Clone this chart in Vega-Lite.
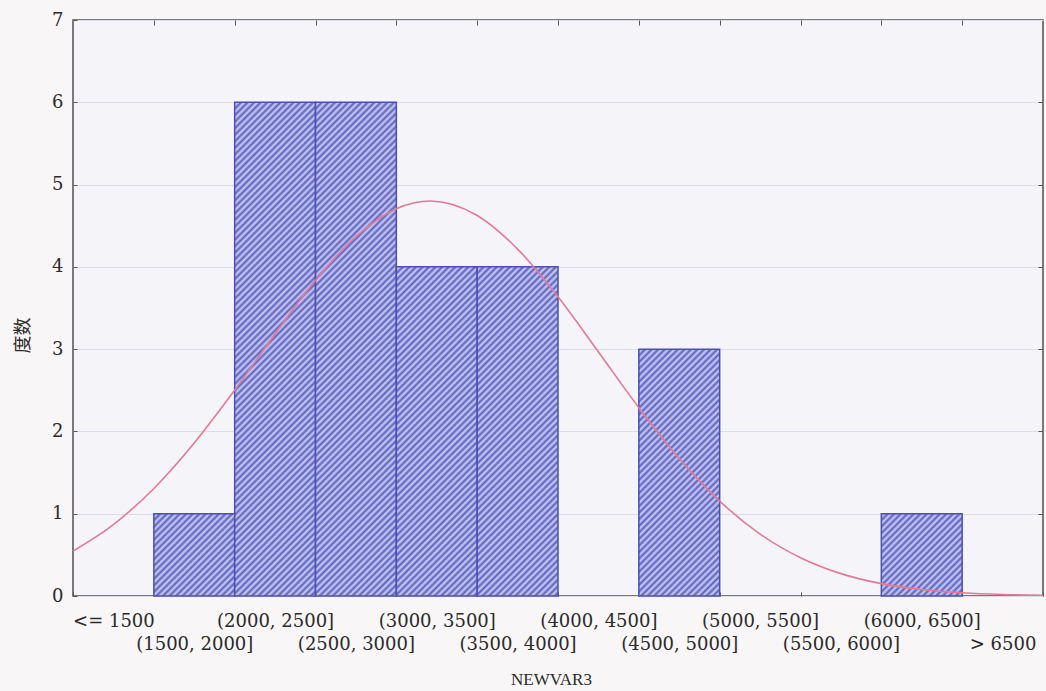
{
  "$schema": "https://vega.github.io/schema/vega-lite/v6.json",
  "width": 970,
  "height": 576,
  "autosize": {"type": "none"},
  "padding": {"left": 73, "top": 20, "right": 3, "bottom": 95},
  "background": "#f8f6f7",
  "config": {"view": {"stroke": "#505050", "strokeWidth": 1.5, "fill": "#f4f4f9"}},
  "datasets": {
    "bins": [
      {"bin": "<= 1500", "count": 0},
      {"bin": "(1500, 2000]", "count": 1},
      {"bin": "(2000, 2500]", "count": 6},
      {"bin": "(2500, 3000]", "count": 6},
      {"bin": "(3000, 3500]", "count": 4},
      {"bin": "(3500, 4000]", "count": 4},
      {"bin": "(4000, 4500]", "count": 0},
      {"bin": "(4500, 5000]", "count": 3},
      {"bin": "(5000, 5500]", "count": 0},
      {"bin": "(5500, 6000]", "count": 0},
      {"bin": "(6000, 6500]", "count": 1},
      {"bin": "> 6500", "count": 0}
    ],
    "curve": [
      {"value": 1000, "density": 0.546},
      {"value": 1250, "density": 0.868},
      {"value": 1500, "density": 1.307},
      {"value": 1750, "density": 1.86},
      {"value": 2000, "density": 2.502},
      {"value": 2250, "density": 3.185},
      {"value": 2500, "density": 3.836},
      {"value": 2750, "density": 4.368},
      {"value": 3000, "density": 4.707},
      {"value": 3210, "density": 4.8},
      {"value": 3500, "density": 4.624},
      {"value": 3750, "density": 4.216},
      {"value": 4000, "density": 3.636},
      {"value": 4250, "density": 2.966},
      {"value": 4500, "density": 2.289},
      {"value": 4750, "density": 1.671},
      {"value": 5000, "density": 1.153},
      {"value": 5250, "density": 0.753},
      {"value": 5500, "density": 0.465},
      {"value": 5750, "density": 0.272},
      {"value": 6000, "density": 0.15},
      {"value": 6250, "density": 0.079},
      {"value": 6500, "density": 0.039},
      {"value": 6750, "density": 0.018},
      {"value": 7000, "density": 0.008}
    ]
  },
  "layer": [
    {
      "data": {"name": "bins"},
      "mark": {"type": "bar", "stroke": "#4b4fb4", "strokeWidth": 1.5, "width": {"band": 1}},
      "encoding": {
        "x": {
          "field": "bin", "type": "nominal", "sort": null,
          "scale": {"paddingInner": 0, "paddingOuter": 0},
          "axis": {
            "orient": "bottom", "title": "NEWVAR3", "labelAngle": 0,
            "labelFont": "DejaVu Serif", "labelFontSize": 18, "labelColor": "#2a2a2a",
            "labelBaseline": "top", "labelLineHeight": 23, "labelPadding": 20,
            "labelExpr": "indexof(['(1500, 2000]','(2500, 3000]','(3500, 4000]','(4500, 5000]','(5500, 6000]','> 6500'], datum.value) >= 0 ? ['', datum.label] : datum.label",
            "labelOverlap": false, "labelBound": false, "labelFlush": false, "labelLimit": 0,
            "domain": false, "ticks": true, "tickBand": "extent", "tickSize": -4, "tickColor": "#555555",
            "grid": false,
            "titleFont": "Liberation Serif", "titleFontSize": 17, "titleFontWeight": "normal", "titleColor": "#2a2a2a",
            "titleX": 478, "titleY": 88, "titleBaseline": "alphabetic", "titleAlign": "center"
          }
        },
        "y": {
          "field": "count", "type": "quantitative", "scale": {"domain": [0, 7], "nice": false},
          "axis": {
            "title": "度数", "values": [0, 1, 2, 3, 4, 5, 6, 7],
            "labelFont": "DejaVu Serif", "labelFontSize": 18, "labelColor": "#2a2a2a", "labelPadding": 14,
            "grid": true, "gridColor": "#dcdce6", "gridWidth": 1,
            "domain": false, "ticks": true, "tickSize": -4, "tickColor": "#555555",
            "titleFont": "Noto Sans CJK SC", "titleFontSize": 18, "titleFontWeight": "normal", "titleColor": "#2a2a2a",
            "titleAngle": 270, "titleX": -50, "titleY": 315, "titleAlign": "center", "titleBaseline": "middle"
          }
        },
        "strokeOpacity": {"condition": {"test": "datum.count == 0", "value": 0}, "value": 1},
        "fill": {
          "condition": [
            {"test": "datum.count == 1", "value": {"gradient": "linear", "x1": 0, "y1": 0, "x2": 0.991, "y2": 1.0088, "stops": [
              {"offset": 0, "color": "#5a5ec2"}, {"offset": 0.02, "color": "#cdd0f2"}, {"offset": 0.04, "color": "#5a5ec2"}, {"offset": 0.06, "color": "#cdd0f2"},
              {"offset": 0.08, "color": "#5a5ec2"}, {"offset": 0.1, "color": "#cdd0f2"}, {"offset": 0.12, "color": "#5a5ec2"}, {"offset": 0.14, "color": "#cdd0f2"},
              {"offset": 0.16, "color": "#5a5ec2"}, {"offset": 0.18, "color": "#cdd0f2"}, {"offset": 0.2, "color": "#5a5ec2"}, {"offset": 0.22, "color": "#cdd0f2"},
              {"offset": 0.24, "color": "#5a5ec2"}, {"offset": 0.26, "color": "#cdd0f2"}, {"offset": 0.28, "color": "#5a5ec2"}, {"offset": 0.3, "color": "#cdd0f2"},
              {"offset": 0.32, "color": "#5a5ec2"}, {"offset": 0.34, "color": "#cdd0f2"}, {"offset": 0.36, "color": "#5a5ec2"}, {"offset": 0.38, "color": "#cdd0f2"},
              {"offset": 0.4, "color": "#5a5ec2"}, {"offset": 0.42, "color": "#cdd0f2"}, {"offset": 0.44, "color": "#5a5ec2"}, {"offset": 0.46, "color": "#cdd0f2"},
              {"offset": 0.48, "color": "#5a5ec2"}, {"offset": 0.5, "color": "#cdd0f2"}, {"offset": 0.52, "color": "#5a5ec2"}, {"offset": 0.54, "color": "#cdd0f2"},
              {"offset": 0.56, "color": "#5a5ec2"}, {"offset": 0.58, "color": "#cdd0f2"}, {"offset": 0.6, "color": "#5a5ec2"}, {"offset": 0.62, "color": "#cdd0f2"},
              {"offset": 0.64, "color": "#5a5ec2"}, {"offset": 0.66, "color": "#cdd0f2"}, {"offset": 0.68, "color": "#5a5ec2"}, {"offset": 0.7, "color": "#cdd0f2"},
              {"offset": 0.72, "color": "#5a5ec2"}, {"offset": 0.74, "color": "#cdd0f2"}, {"offset": 0.76, "color": "#5a5ec2"}, {"offset": 0.78, "color": "#cdd0f2"},
              {"offset": 0.8, "color": "#5a5ec2"}, {"offset": 0.82, "color": "#cdd0f2"}, {"offset": 0.84, "color": "#5a5ec2"}, {"offset": 0.86, "color": "#cdd0f2"},
              {"offset": 0.88, "color": "#5a5ec2"}, {"offset": 0.9, "color": "#cdd0f2"}, {"offset": 0.92, "color": "#5a5ec2"}, {"offset": 0.94, "color": "#cdd0f2"},
              {"offset": 0.96, "color": "#5a5ec2"}, {"offset": 0.98, "color": "#cdd0f2"}, {"offset": 1, "color": "#5a5ec2"}
            ]}},
            {"test": "datum.count == 3", "value": {"gradient": "linear", "x1": 0, "y1": 0, "x2": 0.39258, "y2": 1.1989, "stops": [
              {"offset": 0, "color": "#5a5ec2"}, {"offset": 0.01, "color": "#cdd0f2"}, {"offset": 0.02, "color": "#5a5ec2"}, {"offset": 0.03, "color": "#cdd0f2"},
              {"offset": 0.04, "color": "#5a5ec2"}, {"offset": 0.05, "color": "#cdd0f2"}, {"offset": 0.06, "color": "#5a5ec2"}, {"offset": 0.07, "color": "#cdd0f2"},
              {"offset": 0.08, "color": "#5a5ec2"}, {"offset": 0.09, "color": "#cdd0f2"}, {"offset": 0.1, "color": "#5a5ec2"}, {"offset": 0.11, "color": "#cdd0f2"},
              {"offset": 0.12, "color": "#5a5ec2"}, {"offset": 0.13, "color": "#cdd0f2"}, {"offset": 0.14, "color": "#5a5ec2"}, {"offset": 0.15, "color": "#cdd0f2"},
              {"offset": 0.16, "color": "#5a5ec2"}, {"offset": 0.17, "color": "#cdd0f2"}, {"offset": 0.18, "color": "#5a5ec2"}, {"offset": 0.19, "color": "#cdd0f2"},
              {"offset": 0.2, "color": "#5a5ec2"}, {"offset": 0.21, "color": "#cdd0f2"}, {"offset": 0.22, "color": "#5a5ec2"}, {"offset": 0.23, "color": "#cdd0f2"},
              {"offset": 0.24, "color": "#5a5ec2"}, {"offset": 0.25, "color": "#cdd0f2"}, {"offset": 0.26, "color": "#5a5ec2"}, {"offset": 0.27, "color": "#cdd0f2"},
              {"offset": 0.28, "color": "#5a5ec2"}, {"offset": 0.29, "color": "#cdd0f2"}, {"offset": 0.3, "color": "#5a5ec2"}, {"offset": 0.31, "color": "#cdd0f2"},
              {"offset": 0.32, "color": "#5a5ec2"}, {"offset": 0.33, "color": "#cdd0f2"}, {"offset": 0.34, "color": "#5a5ec2"}, {"offset": 0.35, "color": "#cdd0f2"},
              {"offset": 0.36, "color": "#5a5ec2"}, {"offset": 0.37, "color": "#cdd0f2"}, {"offset": 0.38, "color": "#5a5ec2"}, {"offset": 0.39, "color": "#cdd0f2"},
              {"offset": 0.4, "color": "#5a5ec2"}, {"offset": 0.41, "color": "#cdd0f2"}, {"offset": 0.42, "color": "#5a5ec2"}, {"offset": 0.43, "color": "#cdd0f2"},
              {"offset": 0.44, "color": "#5a5ec2"}, {"offset": 0.45, "color": "#cdd0f2"}, {"offset": 0.46, "color": "#5a5ec2"}, {"offset": 0.47, "color": "#cdd0f2"},
              {"offset": 0.48, "color": "#5a5ec2"}, {"offset": 0.49, "color": "#cdd0f2"}, {"offset": 0.5, "color": "#5a5ec2"}, {"offset": 0.51, "color": "#cdd0f2"},
              {"offset": 0.52, "color": "#5a5ec2"}, {"offset": 0.53, "color": "#cdd0f2"}, {"offset": 0.54, "color": "#5a5ec2"}, {"offset": 0.55, "color": "#cdd0f2"},
              {"offset": 0.56, "color": "#5a5ec2"}, {"offset": 0.57, "color": "#cdd0f2"}, {"offset": 0.58, "color": "#5a5ec2"}, {"offset": 0.59, "color": "#cdd0f2"},
              {"offset": 0.6, "color": "#5a5ec2"}, {"offset": 0.61, "color": "#cdd0f2"}, {"offset": 0.62, "color": "#5a5ec2"}, {"offset": 0.63, "color": "#cdd0f2"},
              {"offset": 0.64, "color": "#5a5ec2"}, {"offset": 0.65, "color": "#cdd0f2"}, {"offset": 0.66, "color": "#5a5ec2"}, {"offset": 0.67, "color": "#cdd0f2"},
              {"offset": 0.68, "color": "#5a5ec2"}, {"offset": 0.69, "color": "#cdd0f2"}, {"offset": 0.7, "color": "#5a5ec2"}, {"offset": 0.71, "color": "#cdd0f2"},
              {"offset": 0.72, "color": "#5a5ec2"}, {"offset": 0.73, "color": "#cdd0f2"}, {"offset": 0.74, "color": "#5a5ec2"}, {"offset": 0.75, "color": "#cdd0f2"},
              {"offset": 0.76, "color": "#5a5ec2"}, {"offset": 0.77, "color": "#cdd0f2"}, {"offset": 0.78, "color": "#5a5ec2"}, {"offset": 0.79, "color": "#cdd0f2"},
              {"offset": 0.8, "color": "#5a5ec2"}, {"offset": 0.81, "color": "#cdd0f2"}, {"offset": 0.82, "color": "#5a5ec2"}, {"offset": 0.83, "color": "#cdd0f2"},
              {"offset": 0.84, "color": "#5a5ec2"}, {"offset": 0.85, "color": "#cdd0f2"}, {"offset": 0.86, "color": "#5a5ec2"}, {"offset": 0.87, "color": "#cdd0f2"},
              {"offset": 0.88, "color": "#5a5ec2"}, {"offset": 0.89, "color": "#cdd0f2"}, {"offset": 0.9, "color": "#5a5ec2"}, {"offset": 0.91, "color": "#cdd0f2"},
              {"offset": 0.92, "color": "#5a5ec2"}, {"offset": 0.93, "color": "#cdd0f2"}, {"offset": 0.94, "color": "#5a5ec2"}, {"offset": 0.95, "color": "#cdd0f2"},
              {"offset": 0.96, "color": "#5a5ec2"}, {"offset": 0.97, "color": "#cdd0f2"}, {"offset": 0.98, "color": "#5a5ec2"}, {"offset": 0.99, "color": "#cdd0f2"},
              {"offset": 1, "color": "#5a5ec2"}
            ]}},
            {"test": "datum.count == 4", "value": {"gradient": "linear", "x1": 0, "y1": 0, "x2": 0.2885, "y2": 1.17473, "stops": [
              {"offset": 0, "color": "#5a5ec2"}, {"offset": 0.008, "color": "#cdd0f2"}, {"offset": 0.016, "color": "#5a5ec2"}, {"offset": 0.024, "color": "#cdd0f2"},
              {"offset": 0.032, "color": "#5a5ec2"}, {"offset": 0.04, "color": "#cdd0f2"}, {"offset": 0.048, "color": "#5a5ec2"}, {"offset": 0.056, "color": "#cdd0f2"},
              {"offset": 0.064, "color": "#5a5ec2"}, {"offset": 0.072, "color": "#cdd0f2"}, {"offset": 0.08, "color": "#5a5ec2"}, {"offset": 0.088, "color": "#cdd0f2"},
              {"offset": 0.096, "color": "#5a5ec2"}, {"offset": 0.104, "color": "#cdd0f2"}, {"offset": 0.112, "color": "#5a5ec2"}, {"offset": 0.12, "color": "#cdd0f2"},
              {"offset": 0.128, "color": "#5a5ec2"}, {"offset": 0.136, "color": "#cdd0f2"}, {"offset": 0.144, "color": "#5a5ec2"}, {"offset": 0.152, "color": "#cdd0f2"},
              {"offset": 0.16, "color": "#5a5ec2"}, {"offset": 0.168, "color": "#cdd0f2"}, {"offset": 0.176, "color": "#5a5ec2"}, {"offset": 0.184, "color": "#cdd0f2"},
              {"offset": 0.192, "color": "#5a5ec2"}, {"offset": 0.2, "color": "#cdd0f2"}, {"offset": 0.208, "color": "#5a5ec2"}, {"offset": 0.216, "color": "#cdd0f2"},
              {"offset": 0.224, "color": "#5a5ec2"}, {"offset": 0.232, "color": "#cdd0f2"}, {"offset": 0.24, "color": "#5a5ec2"}, {"offset": 0.248, "color": "#cdd0f2"},
              {"offset": 0.256, "color": "#5a5ec2"}, {"offset": 0.264, "color": "#cdd0f2"}, {"offset": 0.272, "color": "#5a5ec2"}, {"offset": 0.28, "color": "#cdd0f2"},
              {"offset": 0.288, "color": "#5a5ec2"}, {"offset": 0.296, "color": "#cdd0f2"}, {"offset": 0.304, "color": "#5a5ec2"}, {"offset": 0.312, "color": "#cdd0f2"},
              {"offset": 0.32, "color": "#5a5ec2"}, {"offset": 0.328, "color": "#cdd0f2"}, {"offset": 0.336, "color": "#5a5ec2"}, {"offset": 0.344, "color": "#cdd0f2"},
              {"offset": 0.352, "color": "#5a5ec2"}, {"offset": 0.36, "color": "#cdd0f2"}, {"offset": 0.368, "color": "#5a5ec2"}, {"offset": 0.376, "color": "#cdd0f2"},
              {"offset": 0.384, "color": "#5a5ec2"}, {"offset": 0.392, "color": "#cdd0f2"}, {"offset": 0.4, "color": "#5a5ec2"}, {"offset": 0.408, "color": "#cdd0f2"},
              {"offset": 0.416, "color": "#5a5ec2"}, {"offset": 0.424, "color": "#cdd0f2"}, {"offset": 0.432, "color": "#5a5ec2"}, {"offset": 0.44, "color": "#cdd0f2"},
              {"offset": 0.448, "color": "#5a5ec2"}, {"offset": 0.456, "color": "#cdd0f2"}, {"offset": 0.464, "color": "#5a5ec2"}, {"offset": 0.472, "color": "#cdd0f2"},
              {"offset": 0.48, "color": "#5a5ec2"}, {"offset": 0.488, "color": "#cdd0f2"}, {"offset": 0.496, "color": "#5a5ec2"}, {"offset": 0.504, "color": "#cdd0f2"},
              {"offset": 0.512, "color": "#5a5ec2"}, {"offset": 0.52, "color": "#cdd0f2"}, {"offset": 0.528, "color": "#5a5ec2"}, {"offset": 0.536, "color": "#cdd0f2"},
              {"offset": 0.544, "color": "#5a5ec2"}, {"offset": 0.552, "color": "#cdd0f2"}, {"offset": 0.56, "color": "#5a5ec2"}, {"offset": 0.568, "color": "#cdd0f2"},
              {"offset": 0.576, "color": "#5a5ec2"}, {"offset": 0.584, "color": "#cdd0f2"}, {"offset": 0.592, "color": "#5a5ec2"}, {"offset": 0.6, "color": "#cdd0f2"},
              {"offset": 0.608, "color": "#5a5ec2"}, {"offset": 0.616, "color": "#cdd0f2"}, {"offset": 0.624, "color": "#5a5ec2"}, {"offset": 0.632, "color": "#cdd0f2"},
              {"offset": 0.64, "color": "#5a5ec2"}, {"offset": 0.648, "color": "#cdd0f2"}, {"offset": 0.656, "color": "#5a5ec2"}, {"offset": 0.664, "color": "#cdd0f2"},
              {"offset": 0.672, "color": "#5a5ec2"}, {"offset": 0.68, "color": "#cdd0f2"}, {"offset": 0.688, "color": "#5a5ec2"}, {"offset": 0.696, "color": "#cdd0f2"},
              {"offset": 0.704, "color": "#5a5ec2"}, {"offset": 0.712, "color": "#cdd0f2"}, {"offset": 0.72, "color": "#5a5ec2"}, {"offset": 0.728, "color": "#cdd0f2"},
              {"offset": 0.736, "color": "#5a5ec2"}, {"offset": 0.744, "color": "#cdd0f2"}, {"offset": 0.752, "color": "#5a5ec2"}, {"offset": 0.76, "color": "#cdd0f2"},
              {"offset": 0.768, "color": "#5a5ec2"}, {"offset": 0.776, "color": "#cdd0f2"}, {"offset": 0.784, "color": "#5a5ec2"}, {"offset": 0.792, "color": "#cdd0f2"},
              {"offset": 0.8, "color": "#5a5ec2"}, {"offset": 0.808, "color": "#cdd0f2"}, {"offset": 0.816, "color": "#5a5ec2"}, {"offset": 0.824, "color": "#cdd0f2"},
              {"offset": 0.832, "color": "#5a5ec2"}, {"offset": 0.84, "color": "#cdd0f2"}, {"offset": 0.848, "color": "#5a5ec2"}, {"offset": 0.856, "color": "#cdd0f2"},
              {"offset": 0.864, "color": "#5a5ec2"}, {"offset": 0.872, "color": "#cdd0f2"}, {"offset": 0.88, "color": "#5a5ec2"}, {"offset": 0.888, "color": "#cdd0f2"},
              {"offset": 0.896, "color": "#5a5ec2"}, {"offset": 0.904, "color": "#cdd0f2"}, {"offset": 0.912, "color": "#5a5ec2"}, {"offset": 0.92, "color": "#cdd0f2"},
              {"offset": 0.928, "color": "#5a5ec2"}, {"offset": 0.936, "color": "#cdd0f2"}, {"offset": 0.944, "color": "#5a5ec2"}, {"offset": 0.952, "color": "#cdd0f2"},
              {"offset": 0.96, "color": "#5a5ec2"}, {"offset": 0.968, "color": "#cdd0f2"}, {"offset": 0.976, "color": "#5a5ec2"}, {"offset": 0.984, "color": "#cdd0f2"},
              {"offset": 0.992, "color": "#5a5ec2"}, {"offset": 1, "color": "#cdd0f2"}
            ]}},
            {"test": "datum.count == 6", "value": {"gradient": "linear", "x1": 0, "y1": 0, "x2": 0.18556, "y2": 1.13335, "stops": [
              {"offset": 0, "color": "#5a5ec2"}, {"offset": 0.0057, "color": "#cdd0f2"}, {"offset": 0.0114, "color": "#5a5ec2"}, {"offset": 0.0171, "color": "#cdd0f2"},
              {"offset": 0.0228, "color": "#5a5ec2"}, {"offset": 0.0285, "color": "#cdd0f2"}, {"offset": 0.0342, "color": "#5a5ec2"}, {"offset": 0.0399, "color": "#cdd0f2"},
              {"offset": 0.0456, "color": "#5a5ec2"}, {"offset": 0.0513, "color": "#cdd0f2"}, {"offset": 0.057, "color": "#5a5ec2"}, {"offset": 0.0627, "color": "#cdd0f2"},
              {"offset": 0.0684, "color": "#5a5ec2"}, {"offset": 0.0741, "color": "#cdd0f2"}, {"offset": 0.0798, "color": "#5a5ec2"}, {"offset": 0.0855, "color": "#cdd0f2"},
              {"offset": 0.0912, "color": "#5a5ec2"}, {"offset": 0.0969, "color": "#cdd0f2"}, {"offset": 0.1026, "color": "#5a5ec2"}, {"offset": 0.1083, "color": "#cdd0f2"},
              {"offset": 0.114, "color": "#5a5ec2"}, {"offset": 0.1197, "color": "#cdd0f2"}, {"offset": 0.1254, "color": "#5a5ec2"}, {"offset": 0.1311, "color": "#cdd0f2"},
              {"offset": 0.1368, "color": "#5a5ec2"}, {"offset": 0.1425, "color": "#cdd0f2"}, {"offset": 0.1482, "color": "#5a5ec2"}, {"offset": 0.1539, "color": "#cdd0f2"},
              {"offset": 0.1596, "color": "#5a5ec2"}, {"offset": 0.1653, "color": "#cdd0f2"}, {"offset": 0.171, "color": "#5a5ec2"}, {"offset": 0.1767, "color": "#cdd0f2"},
              {"offset": 0.1824, "color": "#5a5ec2"}, {"offset": 0.1881, "color": "#cdd0f2"}, {"offset": 0.1938, "color": "#5a5ec2"}, {"offset": 0.1995, "color": "#cdd0f2"},
              {"offset": 0.2052, "color": "#5a5ec2"}, {"offset": 0.2109, "color": "#cdd0f2"}, {"offset": 0.2166, "color": "#5a5ec2"}, {"offset": 0.2223, "color": "#cdd0f2"},
              {"offset": 0.228, "color": "#5a5ec2"}, {"offset": 0.2337, "color": "#cdd0f2"}, {"offset": 0.2394, "color": "#5a5ec2"}, {"offset": 0.2451, "color": "#cdd0f2"},
              {"offset": 0.2508, "color": "#5a5ec2"}, {"offset": 0.2565, "color": "#cdd0f2"}, {"offset": 0.2622, "color": "#5a5ec2"}, {"offset": 0.2679, "color": "#cdd0f2"},
              {"offset": 0.2736, "color": "#5a5ec2"}, {"offset": 0.2793, "color": "#cdd0f2"}, {"offset": 0.285, "color": "#5a5ec2"}, {"offset": 0.2907, "color": "#cdd0f2"},
              {"offset": 0.2964, "color": "#5a5ec2"}, {"offset": 0.3021, "color": "#cdd0f2"}, {"offset": 0.3078, "color": "#5a5ec2"}, {"offset": 0.3135, "color": "#cdd0f2"},
              {"offset": 0.3192, "color": "#5a5ec2"}, {"offset": 0.3249, "color": "#cdd0f2"}, {"offset": 0.3306, "color": "#5a5ec2"}, {"offset": 0.3363, "color": "#cdd0f2"},
              {"offset": 0.342, "color": "#5a5ec2"}, {"offset": 0.3477, "color": "#cdd0f2"}, {"offset": 0.3534, "color": "#5a5ec2"}, {"offset": 0.3591, "color": "#cdd0f2"},
              {"offset": 0.3648, "color": "#5a5ec2"}, {"offset": 0.3705, "color": "#cdd0f2"}, {"offset": 0.3762, "color": "#5a5ec2"}, {"offset": 0.3819, "color": "#cdd0f2"},
              {"offset": 0.3876, "color": "#5a5ec2"}, {"offset": 0.3933, "color": "#cdd0f2"}, {"offset": 0.399, "color": "#5a5ec2"}, {"offset": 0.4047, "color": "#cdd0f2"},
              {"offset": 0.4104, "color": "#5a5ec2"}, {"offset": 0.4161, "color": "#cdd0f2"}, {"offset": 0.4218, "color": "#5a5ec2"}, {"offset": 0.4275, "color": "#cdd0f2"},
              {"offset": 0.4332, "color": "#5a5ec2"}, {"offset": 0.4389, "color": "#cdd0f2"}, {"offset": 0.4446, "color": "#5a5ec2"}, {"offset": 0.4503, "color": "#cdd0f2"},
              {"offset": 0.456, "color": "#5a5ec2"}, {"offset": 0.4617, "color": "#cdd0f2"}, {"offset": 0.4674, "color": "#5a5ec2"}, {"offset": 0.4731, "color": "#cdd0f2"},
              {"offset": 0.4788, "color": "#5a5ec2"}, {"offset": 0.4845, "color": "#cdd0f2"}, {"offset": 0.4902, "color": "#5a5ec2"}, {"offset": 0.4959, "color": "#cdd0f2"},
              {"offset": 0.5016, "color": "#5a5ec2"}, {"offset": 0.5073, "color": "#cdd0f2"}, {"offset": 0.513, "color": "#5a5ec2"}, {"offset": 0.5187, "color": "#cdd0f2"},
              {"offset": 0.5244, "color": "#5a5ec2"}, {"offset": 0.5301, "color": "#cdd0f2"}, {"offset": 0.5358, "color": "#5a5ec2"}, {"offset": 0.5415, "color": "#cdd0f2"},
              {"offset": 0.5472, "color": "#5a5ec2"}, {"offset": 0.5529, "color": "#cdd0f2"}, {"offset": 0.5586, "color": "#5a5ec2"}, {"offset": 0.5643, "color": "#cdd0f2"},
              {"offset": 0.57, "color": "#5a5ec2"}, {"offset": 0.5757, "color": "#cdd0f2"}, {"offset": 0.5814, "color": "#5a5ec2"}, {"offset": 0.5871, "color": "#cdd0f2"},
              {"offset": 0.5928, "color": "#5a5ec2"}, {"offset": 0.5985, "color": "#cdd0f2"}, {"offset": 0.6042, "color": "#5a5ec2"}, {"offset": 0.6099, "color": "#cdd0f2"},
              {"offset": 0.6156, "color": "#5a5ec2"}, {"offset": 0.6213, "color": "#cdd0f2"}, {"offset": 0.627, "color": "#5a5ec2"}, {"offset": 0.6327, "color": "#cdd0f2"},
              {"offset": 0.6384, "color": "#5a5ec2"}, {"offset": 0.6441, "color": "#cdd0f2"}, {"offset": 0.6498, "color": "#5a5ec2"}, {"offset": 0.6555, "color": "#cdd0f2"},
              {"offset": 0.6612, "color": "#5a5ec2"}, {"offset": 0.6669, "color": "#cdd0f2"}, {"offset": 0.6726, "color": "#5a5ec2"}, {"offset": 0.6783, "color": "#cdd0f2"},
              {"offset": 0.684, "color": "#5a5ec2"}, {"offset": 0.6897, "color": "#cdd0f2"}, {"offset": 0.6954, "color": "#5a5ec2"}, {"offset": 0.7011, "color": "#cdd0f2"},
              {"offset": 0.7068, "color": "#5a5ec2"}, {"offset": 0.7125, "color": "#cdd0f2"}, {"offset": 0.7182, "color": "#5a5ec2"}, {"offset": 0.7239, "color": "#cdd0f2"},
              {"offset": 0.7296, "color": "#5a5ec2"}, {"offset": 0.7353, "color": "#cdd0f2"}, {"offset": 0.741, "color": "#5a5ec2"}, {"offset": 0.7467, "color": "#cdd0f2"},
              {"offset": 0.7524, "color": "#5a5ec2"}, {"offset": 0.7581, "color": "#cdd0f2"}, {"offset": 0.7638, "color": "#5a5ec2"}, {"offset": 0.7695, "color": "#cdd0f2"},
              {"offset": 0.7752, "color": "#5a5ec2"}, {"offset": 0.7809, "color": "#cdd0f2"}, {"offset": 0.7866, "color": "#5a5ec2"}, {"offset": 0.7923, "color": "#cdd0f2"},
              {"offset": 0.798, "color": "#5a5ec2"}, {"offset": 0.8037, "color": "#cdd0f2"}, {"offset": 0.8094, "color": "#5a5ec2"}, {"offset": 0.8151, "color": "#cdd0f2"},
              {"offset": 0.8208, "color": "#5a5ec2"}, {"offset": 0.8265, "color": "#cdd0f2"}, {"offset": 0.8322, "color": "#5a5ec2"}, {"offset": 0.8379, "color": "#cdd0f2"},
              {"offset": 0.8436, "color": "#5a5ec2"}, {"offset": 0.8493, "color": "#cdd0f2"}, {"offset": 0.855, "color": "#5a5ec2"}, {"offset": 0.8607, "color": "#cdd0f2"},
              {"offset": 0.8664, "color": "#5a5ec2"}, {"offset": 0.8721, "color": "#cdd0f2"}, {"offset": 0.8778, "color": "#5a5ec2"}, {"offset": 0.8835, "color": "#cdd0f2"},
              {"offset": 0.8892, "color": "#5a5ec2"}, {"offset": 0.8949, "color": "#cdd0f2"}, {"offset": 0.9006, "color": "#5a5ec2"}, {"offset": 0.9063, "color": "#cdd0f2"},
              {"offset": 0.912, "color": "#5a5ec2"}, {"offset": 0.9177, "color": "#cdd0f2"}, {"offset": 0.9234, "color": "#5a5ec2"}, {"offset": 0.9291, "color": "#cdd0f2"},
              {"offset": 0.9348, "color": "#5a5ec2"}, {"offset": 0.9405, "color": "#cdd0f2"}, {"offset": 0.9462, "color": "#5a5ec2"}, {"offset": 0.9519, "color": "#cdd0f2"},
              {"offset": 0.9576, "color": "#5a5ec2"}, {"offset": 0.9633, "color": "#cdd0f2"}, {"offset": 0.969, "color": "#5a5ec2"}, {"offset": 0.9747, "color": "#cdd0f2"},
              {"offset": 0.9804, "color": "#5a5ec2"}, {"offset": 0.9861, "color": "#cdd0f2"}, {"offset": 0.9918, "color": "#5a5ec2"}, {"offset": 0.9975, "color": "#cdd0f2"}
            ]}}
          ],
          "value": "#9296d6"
        }
      }
    },
    {
      "data": {"name": "curve"},
      "mark": {"type": "line", "color": "#e27a95", "strokeWidth": 1.6, "interpolate": "monotone", "clip": true},
      "encoding": {
        "x": {
          "field": "value", "type": "quantitative",
          "scale": {"domain": [1000, 7000], "nice": false, "zero": false},
          "axis": {"orient": "top", "values": [1500, 2000, 2500, 3000, 3500, 4000, 4500, 5000, 5500, 6000, 6500],
                   "labels": false, "domain": false, "grid": false, "ticks": true, "tickSize": -5, "tickColor": "#555555", "title": null}
        },
        "y": {
          "field": "density", "type": "quantitative",
          "scale": {"domain": [0, 7], "nice": false},
          "axis": {"orient": "right", "values": [1, 2, 3, 4, 5, 6],
                   "labels": false, "domain": false, "grid": false, "ticks": true, "tickSize": -5, "tickColor": "#555555", "title": null}
        }
      }
    }
  ],
  "resolve": {"scale": {"x": "independent", "y": "independent"}}
}
